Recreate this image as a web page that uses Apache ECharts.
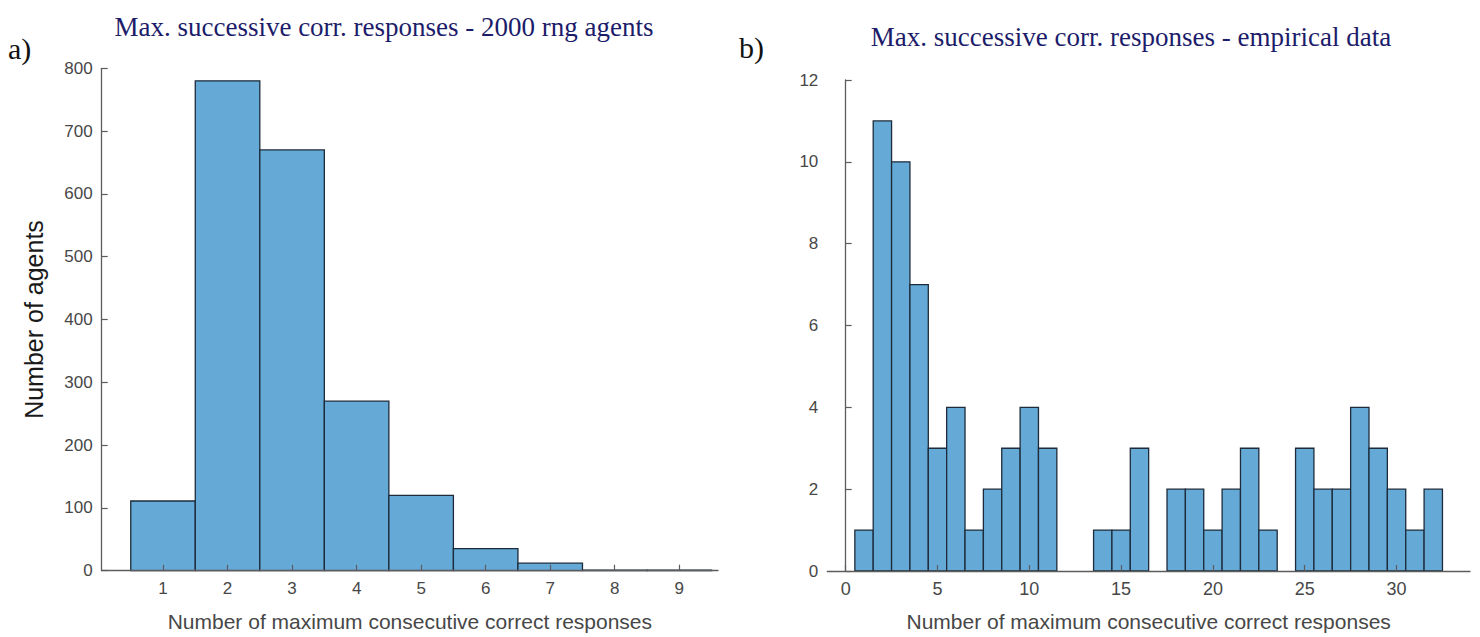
<!DOCTYPE html>
<html>
<head>
<meta charset="utf-8">
<script src="https://cdn.jsdelivr.net/npm/echarts@6/dist/echarts.min.js"></script>
<style>
  html, body { margin: 0; padding: 0; background: #ffffff; }
  #chart { width: 1480px; height: 637px; }
</style>
</head>
<body>
<div id="chart"></div>
<script>
// a) simulated agents: longest run of correct responses, one bin per run length
const rngBins = [1, 2, 3, 4, 5, 6, 7, 8, 9];
const rngCounts = [111, 780, 670, 270, 120, 35, 12, 1, 1];

// b) participants: same measure, one bin per run length
const empBins = [1, 2, 3, 4, 5, 6, 7, 8, 9, 10, 11, 12, 13, 14, 15, 16,
                 17, 18, 19, 20, 21, 22, 23, 24, 25, 26, 27, 28, 29, 30, 31, 32];
const empCounts = [1, 11, 10, 7, 3, 4, 1, 2, 3, 4, 3, 0, 0, 1, 1, 3,
                   0, 2, 2, 1, 2, 3, 1, 0, 3, 2, 2, 4, 3, 2, 1, 2];

// tick labels along the x axes
const rngXTicks = [1, 2, 3, 4, 5, 6, 7, 8, 9];
const empXTicks = [0, 5, 10, 15, 20, 25, 30];

const titleA = 'Max. successive corr. responses - 2000 rng agents';
const titleB = 'Max. successive corr. responses - empirical data';
const xName = 'Number of maximum consecutive correct responses';
const yNameA = 'Number of agents';

const BAR_FILL = '#65a9d7';
const BAR_EDGE = '#1d2b3a';
const AXIS_COLOR = '#5c5c5c';
const LABEL_COLOR = '#474747';
const SANS = '"Liberation Sans", Arial, sans-serif';
const SERIF = '"Liberation Serif", "Times New Roman", serif';

// one rectangle per bin, spanning [bin - 0.5, bin + 0.5]
function histRect(params, api) {
  const x = api.value(0);
  const y = api.value(1);
  if (!y) return { type: 'group', children: [] };
  const p0 = api.coord([x - 0.5, y]);
  const p1 = api.coord([x + 0.5, 0]);
  return {
    type: 'rect',
    shape: { x: p0[0], y: p0[1], width: p1[0] - p0[0], height: p1[1] - p0[1] },
    style: { fill: BAR_FILL, stroke: BAR_EDGE, lineWidth: 1.3 }
  };
}

function xAxisCfg(grid, min, max, ticks, labelSize) {
  return {
    gridIndex: grid, type: 'value', min: min, max: max, z: 5,
    axisLine: { show: true, onZero: false, lineStyle: { color: AXIS_COLOR, width: 1.3 } },
    axisTick: { show: true, inside: true, length: 6, customValues: ticks,
                lineStyle: { color: AXIS_COLOR, width: 1.2 } },
    axisLabel: { customValues: ticks, margin: 9, fontSize: labelSize, color: LABEL_COLOR, fontFamily: SANS },
    splitLine: { show: false },
    name: xName, nameLocation: 'middle', nameGap: 40,
    nameTextStyle: { fontSize: 21, color: LABEL_COLOR, fontFamily: SANS }
  };
}

function yAxisCfg(grid, max, interval) {
  return {
    gridIndex: grid, type: 'value', min: 0, max: max, interval: interval, z: 5,
    axisLine: { show: true, lineStyle: { color: AXIS_COLOR, width: 1.3 } },
    axisTick: { show: true, inside: true, length: 6, lineStyle: { color: AXIS_COLOR, width: 1.2 } },
    axisLabel: { margin: 9, fontSize: 17, color: LABEL_COLOR, fontFamily: SANS },
    splitLine: { show: false }
  };
}

const chart = echarts.init(document.getElementById('chart'), null, { renderer: 'svg' });

const yLeft = yAxisCfg(0, 800, 100);
yLeft.name = yNameA;
yLeft.nameLocation = 'middle';
yLeft.nameGap = 55;
yLeft.nameTextStyle = { fontSize: 25, color: '#1a1a1a', fontFamily: SANS };

chart.setOption({
  animation: false,
  backgroundColor: '#ffffff',
  grid: [
    { left: 101.7, top: 68.3, width: 616.3, height: 502.4 },
    { left: 827.3, top: 80, width: 642.7, height: 492 }
  ],
  xAxis: [
    xAxisCfg(0, 0.05, 9.6, rngXTicks, 17),
    xAxisCfg(1, -1, 34, empXTicks, 18)
  ],
  yAxis: [
    yLeft,
    yAxisCfg(1, 12, 2)
  ],
  series: [
    {
      type: 'custom', xAxisIndex: 0, yAxisIndex: 0, z: 2,
      renderItem: histRect,
      encode: { x: 0, y: 1 },
      data: rngBins.map((b, i) => [b, rngCounts[i]])
    },
    {
      type: 'custom', xAxisIndex: 1, yAxisIndex: 1, z: 2,
      renderItem: histRect,
      encode: { x: 0, y: 1 },
      data: empBins.map((b, i) => [b, empCounts[i]])
    }
  ],
  graphic: [
    { type: 'text', x: 384, y: 27, style: { text: titleA, fill: '#1c1c6a', font: '27px ' + SERIF, align: 'center', verticalAlign: 'middle' } },
    { type: 'text', x: 1131, y: 37, style: { text: titleB, fill: '#1c1c6a', font: '27px ' + SERIF, align: 'center', verticalAlign: 'middle' } },
    { type: 'text', x: 8, y: 48, style: { text: 'a)', fill: '#111111', font: '30px ' + SERIF, align: 'left', verticalAlign: 'middle' } },
    { type: 'text', x: 739, y: 47, style: { text: 'b)', fill: '#111111', font: '30px ' + SERIF, align: 'left', verticalAlign: 'middle' } }
  ]
});
</script>
</body>
</html>
